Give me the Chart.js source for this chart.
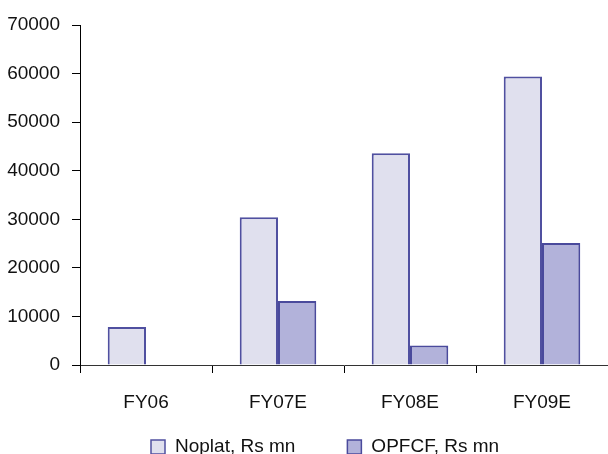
<!DOCTYPE html>
<html>
<head>
<meta charset="utf-8">
<script src="https://cdn.jsdelivr.net/npm/chart.js@4.4.1/dist/chart.umd.min.js"></script>
<style>
  html, body { margin: 0; padding: 0; background: #fff; }
  #wrap { width: 608px; height: 454px; }
</style>
</head>
<body>
<div id="wrap"><canvas id="chart" width="608" height="454"></canvas></div>
<script>
// Noplat vs OPFCF, Rs mn
const categories = ['FY06', 'FY07E', 'FY08E', 'FY09E'];
const noplat = [7800, 30400, 43600, 59400];
const opfcf = [null, 13200, 4000, 25100];
const yTicks = [0, 10000, 20000, 30000, 40000, 50000, 60000, 70000];

const FONT = '"Liberation Sans", Arial, sans-serif';
const FONT_SIZE = 19;

// legend drawn under the axis labels, items spaced wide apart
const wideLegend = {
  id: 'wideLegend',
  afterDraw(chart) {
    const ctx = chart.ctx;
    const box = 14;
    const gap = 52;
    let x = 151;
    const y = 447;
    ctx.save();
    ctx.font = FONT_SIZE + 'px ' + FONT;
    ctx.textBaseline = 'middle';
    ctx.textAlign = 'left';
    chart.data.datasets.forEach((ds) => {
      ctx.fillStyle = ds.backgroundColor;
      ctx.fillRect(x, y - box / 2, box, box);
      ctx.strokeStyle = ds.borderColor;
      ctx.lineWidth = 1.5;
      ctx.strokeRect(x, y - box / 2, box, box);
      ctx.fillStyle = '#111';
      ctx.fillText(ds.label, x + box + 10, y);
      x += box + 10 + ctx.measureText(ds.label).width + gap;
    });
    ctx.restore();
  },
};

new Chart(document.getElementById('chart'), {
  type: 'bar',
  data: {
    labels: categories,
    datasets: [
      {
        label: 'Noplat, Rs mn',
        data: noplat,
        backgroundColor: '#E0E0EE',
        borderColor: '#5050A0',
        borderWidth: 2,
      },
      {
        label: 'OPFCF, Rs mn',
        data: opfcf,
        backgroundColor: '#B2B2DA',
        borderColor: '#4A4A9C',
        borderWidth: 2,
      },
    ],
  },
  options: {
    responsive: false,
    animation: false,
    layout: { padding: { top: 25, left: 0, right: 0, bottom: 39 } },
    datasets: { bar: { categoryPercentage: 0.58, barPercentage: 1.0 } },
    scales: {
      x: {
        grid: { drawOnChartArea: false, drawTicks: true, tickLength: 8, color: '#000', offset: true },
        border: { color: '#333', width: 1 },
        ticks: { color: '#111', font: { family: FONT, size: FONT_SIZE }, padding: 18, maxRotation: 0, autoSkip: false },
        afterFit: (scale) => { scale.height = 50; },
      },
      y: {
        min: 0,
        max: 70000,
        afterBuildTicks: (scale) => { scale.ticks = yTicks.map(v => ({ value: v })); },
        grid: { drawOnChartArea: false, drawTicks: true, tickLength: 8, color: '#000' },
        border: { color: '#000', width: 1 },
        ticks: {
          color: '#111',
          font: { family: FONT, size: FONT_SIZE },
          padding: 12,
          callback: (v) => String(v),
        },
        afterFit: (scale) => { scale.width = 80; },
      },
    },
    plugins: {
      legend: { display: false },
      tooltip: { enabled: false },
    },
  },
  plugins: [wideLegend],
});
</script>
</body>
</html>
